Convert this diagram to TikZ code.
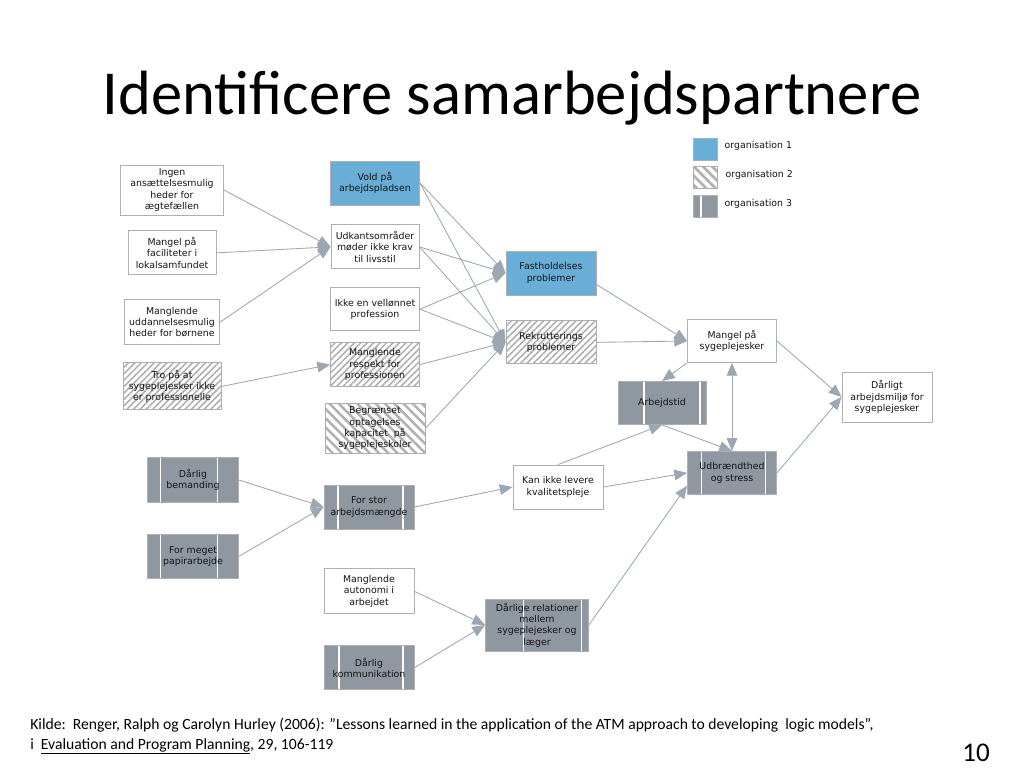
\documentclass[tikz,border=0pt]{standalone}
\usepackage{fontspec}
\setmainfont{DejaVu Sans}
\newfontfamily\slidefont{Carlito}
\usetikzlibrary{arrows.meta,positioning,patterns.meta}
\newlength\px
\setlength\px{0.703125pt}
\definecolor{orgone}{RGB}{104,174,214}
\definecolor{orgthree}{RGB}{143,151,160}
\definecolor{boxline}{RGB}{172,176,180}
\definecolor{edgeline}{RGB}{156,167,177}
\definecolor{hatch}{RGB}{176,176,176}
\tikzset{
  every picture/.style = {
    x = 0.703125pt,
    y = -0.703125pt,
  }
  ,
  box/.style = {
    rectangle,
    draw = boxline,
    line width = 0.6pt,
    font = \fontsize{6.6}{8}\selectfont,
    text = black!92,
    align = center,
    inner sep = 1pt,
    minimum width = 89\px,
    minimum height = 44\px
  }
  , % organisation 1
  org-one/.style = {
    box,
    fill = orgone
  }
  , % organisation 2
  org-two/.style = {
    box,
    pattern = {Lines[angle=45, distance=3.2pt, line width=1.1pt]},
    pattern color = hatch
  }
  ,
  org-two-wide/.style = {
    box,
    pattern = {Lines[angle=-45, distance=4.6pt, line width=1.8pt]},
    pattern color = hatch
  }
  , % organisation 3
  org-three/.style 2 args = {
    box,
    fill = orgthree,
    path picture = {
      \draw[white, line width=1pt]
        ([xshift=#1\px]path picture bounding box.south west) --
        ([xshift=#1\px]path picture bounding box.north west);
      \draw[white, line width=1pt]
        ([xshift=-#2\px]path picture bounding box.south east) --
        ([xshift=-#2\px]path picture bounding box.north east);
    }
  }
  ,
  legend-text/.style = {
    font = \fontsize{6.6}{8}\selectfont,
    text = black!92,
    inner sep = 0pt
  }
  , % connectors
  cause-edge/.style = {
    color = edgeline,
    line width = 0.6pt,
    -{Triangle[length=9pt, width=7.5pt]}
  }
}
\begin{document}
\begin{tikzpicture}
\useasboundingbox (0,0) rectangle (1024,768);

\node[font=\slidefont\fontsize{44}{48}\selectfont, anchor=base] (title) at (512,115) {Identificere samarbejdspartnere};

% legend
\node[org-one, minimum width=24\px, minimum height=22\px] (legone) at (705,149) {};
\node[org-two-wide, minimum width=24\px, minimum height=22\px, below=5\px of legone] (legtwo) {};
\node[org-three={8}{30}, minimum width=24\px, minimum height=22\px, below=5\px of legtwo] (legthree) {};
\node[legend-text, right=7\px of legone, yshift=2pt] (legonetext) {organisation 1};
\node[legend-text, right=7\px of legtwo, yshift=2pt] (legtwotext) {organisation 2};
\node[legend-text, right=7\px of legthree, yshift=2pt] (legthreetext) {organisation 3};

% left column
\node[box, minimum width=103\px, minimum height=50\px] (ingen) at (172,190) {Ingen\\ansættelsesmulig\\heder for\\ægtefællen};
\node[box, minimum width=88\px, below=15\px of ingen] (faciliteter) {Mangel på\\faciliteter i\\lokalsamfundet};
\node[box, minimum width=95\px, minimum height=45\px, below=24\px of faciliteter] (uddannelse) {Manglende\\uddannelsesmulig\\heder for børnene};
\node[org-two, minimum width=98\px, minimum height=47\px, below=17\px of uddannelse] (tro) {Tro på at\\sygeplejesker ikke\\er professionelle};

% second column
\node[org-one] (vold) at (375,183) {Vold på\\arbejdspladsen};
\node[box, minimum width=88\px, below=19\px of vold] (udkant) {Udkantsområder\\møder ikke krav\\til livsstil};
\node[box, minimum height=43\px, below=18\px of udkant] (vellonnet) {Ikke en vellønnet\\profession};
\node[org-two, below=11\px of vellonnet] (respekt) {Manglende\\respekt for\\professionen};
\node[org-two-wide, minimum width=100\px, minimum height=50\px, below=16\px of respekt] (begraenset) {Begrænset\\optagelses\\kapacitet\ \ på\\sygeplejeskoler};

% problems
\node[org-one, minimum width=90\px] (fasthold) at (551,273) {Fastholdelses\\problemer};
\node[org-two, minimum width=90\px, minimum height=43\px, below=25\px of fasthold] (rekrut) {Rekrutterings\\problemer};
\node[box, minimum height=43\px] (mangel) at (732,341) {Mangel på\\sygeplejesker};
\node[org-three={26}{6}, minimum width=88\px, minimum height=43\px] (arbejdstid) at (662,403) {Arbejdstid};
\node[org-three={14}{11}, minimum height=43\px, below=88\px of mangel] (udbraendt) {Udbrændthed\\og stress};
\node[box, minimum width=90\px, minimum height=50\px] (miljo) at (887,397) {Dårligt\\arbejdsmiljø for\\sygeplejesker};
\node[box, minimum width=90\px] (kvalitet) at (558,487) {Kan ikke levere\\kvalitetspleje};

% lower part
\node[org-three={13}{21}, minimum width=91\px, minimum height=45\px] (bemanding) at (193,480) {Dårlig\\bemanding};
\node[org-three={13}{21}, minimum width=91\px, below=31\px of bemanding] (papir) {For meget\\papirarbejde};
\node[org-three={14}{11}, minimum width=90\px] (arbejdsmaengde) at (369,507) {For stor\\arbejdsmængde};
\node[box, minimum width=90\px, minimum height=45\px, below=39\px of arbejdsmaengde] (autonomi) {Manglende\\autonomi i\\arbejdet};
\node[org-three={15}{11}, minimum width=90\px, below=31\px of autonomi] (kommunikation) {Dårlig\\kommunikation};
\node[org-three={38}{7}, minimum width=103\px, minimum height=52\px] (relationer) at (537,625) {Dårlige relationer\\mellem\\sygeplejesker og\\læger};

\path[cause-edge]
  (ingen.east) edge (udkant.west)
  (faciliteter.east) edge (udkant.west)
  (uddannelse.east) edge (udkant.west)
  (tro.east) edge (respekt.west)
  (vold.east) edge (fasthold.west)
  (vold.east) edge (rekrut.west)
  (udkant.east) edge (fasthold.west)
  (udkant.east) edge (rekrut.west)
  (vellonnet.east) edge (fasthold.west)
  (vellonnet.east) edge (rekrut.west)
  (respekt.east) edge (rekrut.west)
  (begraenset.east) edge (rekrut.west)
  ([yshift=-8pt]fasthold.east) edge (mangel.west)
  (rekrut.east) edge (mangel.west)
  (mangel.south west) edge (arbejdstid.north)
  (mangel.east) edge (miljo.west)
  (udbraendt.east) edge (miljo.west)
  (arbejdstid.south) edge (udbraendt.north)
  (kvalitet.north) edge (arbejdstid.south)
  (kvalitet.east) edge (udbraendt.west)
  (relationer.east) edge ([yshift=-9pt]udbraendt.west)
  (bemanding.east) edge (arbejdsmaengde.west)
  (papir.east) edge (arbejdsmaengde.west)
  (arbejdsmaengde.east) edge (kvalitet.west)
  (autonomi.east) edge (relationer.west)
  (kommunikation.east) edge (relationer.west);
\path[cause-edge, {Triangle[length=9pt, width=7.5pt]}-{Triangle[length=9pt, width=7.5pt]}]
  (mangel.south) edge (udbraendt.north);

% source
\node[font=\slidefont\fontsize{11}{14}\selectfont, anchor=base west, inner sep=0pt] (kilde) at (30,729) {Kilde:\ \ Renger, Ralph og Carolyn Hurley (2006): ”Lessons learned in the application of the ATM approach to developing\ \ logic models”,};
\node[font=\slidefont\fontsize{11}{14}\selectfont, anchor=base west, inner sep=0pt] (tidsskrift) at (30,749) {i\ \ \underline{Evaluation and Program Planning}, 29, 106-119};
\node[font=\slidefont\fontsize{19}{22}\selectfont, anchor=base east, inner sep=0pt] (side) at (990,761) {10};
\end{tikzpicture}
\end{document}
